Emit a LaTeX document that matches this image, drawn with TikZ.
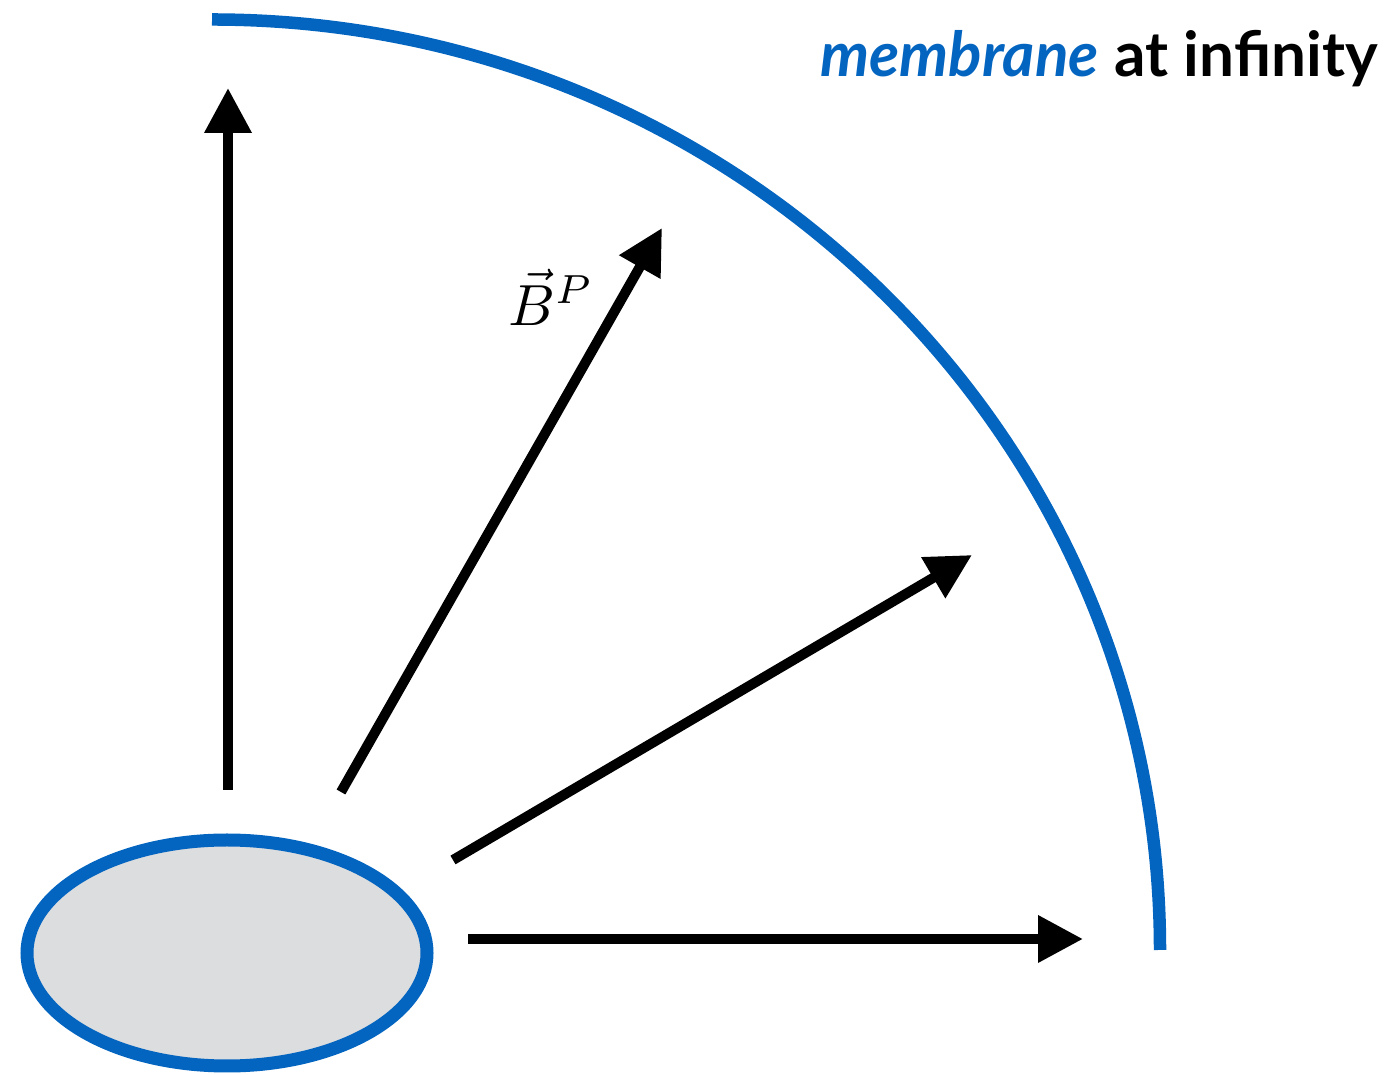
\documentclass[tikz,border=0pt]{standalone}
\usepackage{fontspec}
\newfontfamily\labelfont{Lato}
\usetikzlibrary{arrows.meta,shapes.geometric}
\definecolor{memblue}{RGB}{4,101,192}
\definecolor{bodygray}{RGB}{220,221,223}
\begin{document}
\begin{tikzpicture}[x=1pt,y=1pt,
  ray/.style={line width=10pt,draw=black,-{Triangle[length=45pt,width=45pt]}},
  membrane/.style={line width=12.5pt,draw=memblue}]
\useasboundingbox (0,0) rectangle (1391,1075);
% horizon body
\node[ellipse,draw=memblue,fill=bodygray,line width=13pt,inner sep=0pt,
      minimum width=400pt,minimum height=226pt] (body) at (227,122) {};
% membrane at infinity
\draw[membrane] (212,1055.5) arc[start angle=90,end angle=0,x radius=948,y radius=930.5];
% ray coordinates
\coordinate (t1) at (228,285);  \coordinate (h1) at (228,987);
\coordinate (t2) at (341,283);  \coordinate (h2) at (662,847);
\coordinate (t3) at (453,215);  \coordinate (h3) at (972,520);
\coordinate (t4) at (468,136);  \coordinate (h4) at (1083,136);
\draw[ray] (t1) -- (h1);
\draw[ray] (t2) -- (h2);
\draw[ray] (t3) -- (h3);
\draw[ray] (t4) -- (h4);
% labels
\node[inner sep=0pt] (bp) at (551,778) {\scalebox{5.8}{$\vec{B}^{P}$}};
\node[anchor=base east,inner sep=0pt] (title) at (1378,998)
  {\labelfont\fontsize{62}{64}\selectfont{\color{memblue}\bfseries\itshape membrane} \bfseries at infinity};
\end{tikzpicture}
\end{document}
